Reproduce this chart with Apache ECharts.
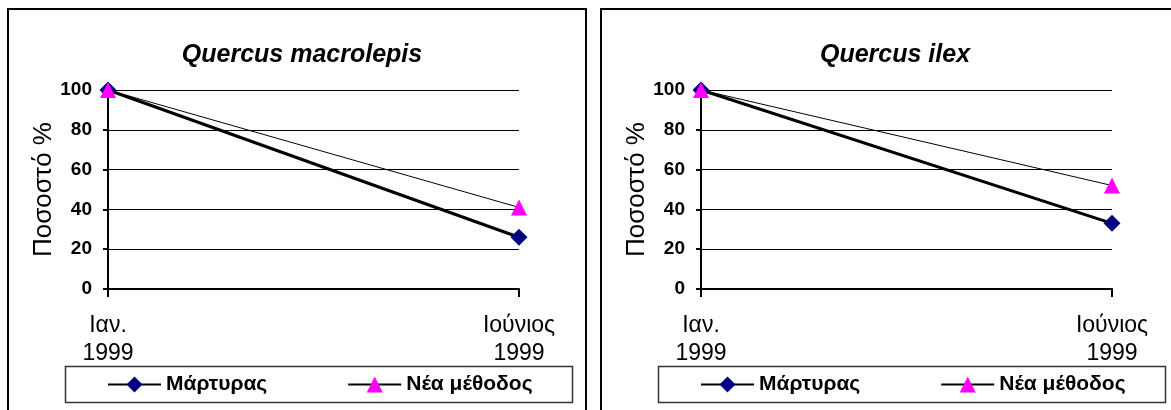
<!DOCTYPE html>
<html>
<head>
<meta charset="utf-8">
<style>
  html, body { margin: 0; padding: 0; background: #fff; }
  #chart { width: 1171px; height: 410px; }
</style>
<script src="https://cdn.jsdelivr.net/npm/echarts@6/dist/echarts.min.js"></script>
</head>
<body>
<div id="chart"></div>
<script>
// ---- data ----
const categories = ['Ιαν.\n1999', 'Ιούνιος\n1999'];
const yTicks = [0, 20, 40, 60, 80, 100];
const panelTitles = ['Quercus macrolepis', 'Quercus ilex'];
const seriesNames = ['Μάρτυρας', 'Νέα μέθοδος'];
const yAxisName = 'Ποσοστό %';
const macrolepisControl = [100, 26];
const macrolepisNew = [100, 41];
const ilexControl = [100, 33];
const ilexNew = [100, 52];

const panelData = [
  [macrolepisControl, macrolepisNew],
  [ilexControl, ilexNew]
];

// ---- layout ----
const FONT = '"Liberation Sans", Arial, sans-serif';
const panelOffset = 593;
const panelLeft = 8;
const panelWidth = 578;

const chart = echarts.init(document.getElementById('chart'));

const grids = [], xAxes = [], yAxes = [], series = [], titles = [], legends = [], graphics = [];

panelData.forEach((pair, i) => {
  const off = i * panelOffset;
  grids.push({ left: 108 + off, top: 90, width: 411, height: 199, containLabel: false });
  xAxes.push({
    type: 'category', gridIndex: i, data: categories, boundaryGap: false,
    axisLine: { lineStyle: { color: '#000', width: 2 } },
    axisTick: { show: true, inside: false, length: 8, alignWithLabel: true, lineStyle: { color: '#000', width: 2 } },
    axisLabel: { color: '#000', fontFamily: FONT, fontSize: 23, lineHeight: 28, margin: 23 },
    splitLine: { show: false }
  });
  yAxes.push({
    type: 'value', gridIndex: i,
    min: yTicks[0], max: yTicks[yTicks.length - 1], interval: yTicks[1] - yTicks[0],
    name: yAxisName, nameLocation: 'middle', nameGap: 45, nameRotate: 90,
    nameTextStyle: { color: '#000', fontFamily: FONT, fontSize: 26 },
    axisLine: { show: true, lineStyle: { color: '#000', width: 2 } },
    axisTick: { show: true, inside: false, length: 5, lineStyle: { color: '#000', width: 2 } },
    axisLabel: { color: '#000', fontFamily: FONT, fontSize: 19, fontWeight: 'bold', margin: 16 },
    splitLine: { show: true, lineStyle: { color: '#000', width: 1 } }
  });
  series.push({
    name: seriesNames[0], type: 'line', xAxisIndex: i, yAxisIndex: i,
    data: pair[0], symbol: 'diamond', symbolSize: 17, showAllSymbol: true,
    lineStyle: { color: '#000', width: 3 },
    itemStyle: { color: '#000080', borderWidth: 0 },
    z: 3
  });
  series.push({
    name: seriesNames[1], type: 'line', xAxisIndex: i, yAxisIndex: i,
    data: pair[1], symbol: 'triangle', symbolSize: 16, showAllSymbol: true,
    lineStyle: { color: '#000', width: 1 },
    itemStyle: { color: '#FF00FF', borderWidth: 0 },
    z: 4
  });
  titles.push({
    text: panelTitles[i], left: panelLeft + off + panelWidth / 2, top: 38, textAlign: 'center',
    textStyle: { color: '#000', fontFamily: FONT, fontSize: 25, fontWeight: 'bold', fontStyle: 'italic' }
  });
  legends.push({
    data: seriesNames, left: 107 + off, top: 374, padding: 0, orient: 'horizontal',
    itemWidth: 53, itemHeight: 20, itemGap: 80,
    textStyle: { color: '#000', fontFamily: FONT, fontSize: 21, fontWeight: 'bold' },
    selectedMode: false
  });
  // panel border
  graphics.push({
    type: 'rect', silent: true,
    shape: { x: panelLeft + off, y: 9, width: panelWidth, height: 420 },
    style: { fill: 'none', stroke: '#000', lineWidth: 2 }
  });
  // legend box
  graphics.push({
    type: 'rect', silent: true,
    shape: { x: 65.5 + off, y: 366.5, width: 507, height: 36 },
    style: { fill: 'none', stroke: '#333', lineWidth: 1.5 }
  });
});

chart.setOption({
  animation: false,
  backgroundColor: '#fff',
  title: titles,
  legend: legends,
  grid: grids,
  xAxis: xAxes,
  yAxis: yAxes,
  series: series,
  graphic: graphics
});
</script>
</body>
</html>
